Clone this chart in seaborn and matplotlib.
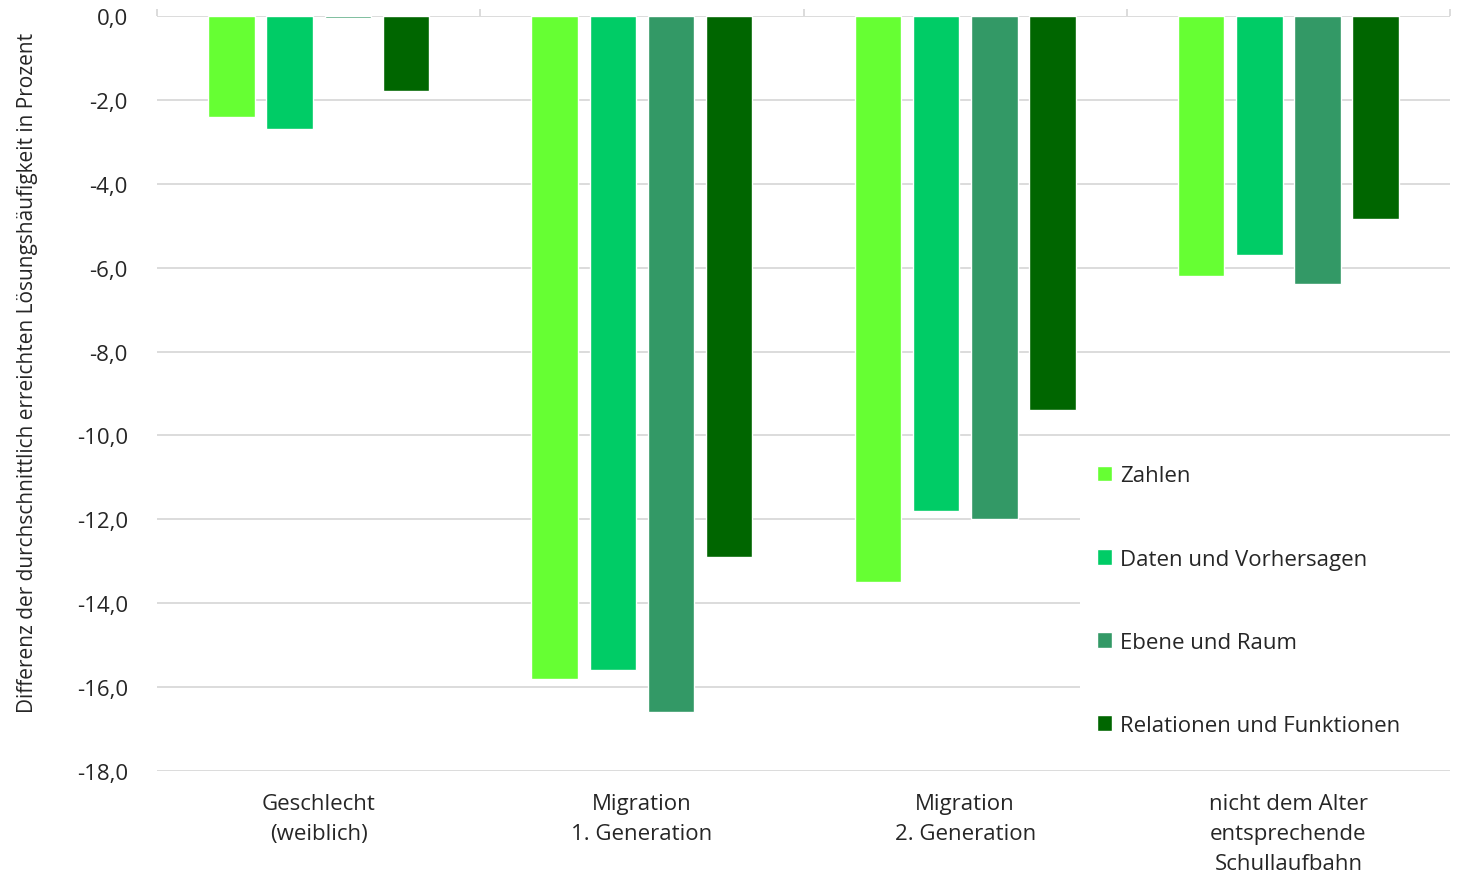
import matplotlib
matplotlib.use('Agg')
import matplotlib.pyplot as plt
import numpy as np
import pandas as pd
import seaborn as sns
from matplotlib.ticker import FuncFormatter

categories = ['Geschlecht\n(weiblich)', 'Migration\n1. Generation',
              'Migration\n2. Generation', 'nicht dem Alter\nentsprechende\nSchullaufbahn']
series = ['Zahlen', 'Daten und Vorhersagen', 'Ebene und Raum', 'Relationen und Funktionen']
zahlen = [-2.4, -15.8, -13.5, -6.2]
daten = [-2.7, -15.6, -11.8, -5.7]
ebene = [-0.05, -16.6, -12.0, -6.4]
relationen = [-1.8, -12.9, -9.4, -4.85]
colors = ['#66FF33', '#00CC66', '#339966', '#006600']

df = pd.DataFrame({
    'cat': categories * 4,
    'serie': np.repeat(series, 4),
    'wert': zahlen + daten + ebene + relationen,
})

sns.set_theme(style='white')
plt.rcParams['font.family'] = ['Open Sans', 'DejaVu Sans']
FS = 16

fig = plt.figure(figsize=(14.57, 8.79), dpi=100)
ax = fig.add_axes([0.1078, 0.1217, 0.8874, 0.859])

sns.barplot(data=df, x='cat', y='wert', hue='serie', palette=colors,
            width=0.72, gap=0.2, ax=ax, saturation=1, errorbar=None, zorder=3)

ax.set_ylim(-18, 0)
ax.set_xlim(-0.5, 3.5)
ax.set_yticks(np.arange(-18, 0.1, 2))
ax.yaxis.set_major_formatter(FuncFormatter(lambda v, p: f'{v:.1f}'.replace('.', ',').replace('\u2212', '-')))
ax.grid(axis='y', color='#d9d9d9', linewidth=1.3, zorder=0)
ax.set_axisbelow(True)
for s in ax.spines.values():
    s.set_visible(False)

ax.tick_params(axis='y', length=0, labelsize=FS, pad=21)
ax.tick_params(axis='x', which='major', length=0, labelsize=FS, pad=16)
for t in ax.get_xticklabels():
    t.set_linespacing(1.55)
ax.set_xticks([-0.5, 0.5, 1.5, 2.5, 3.5], minor=True)
ax.tick_params(axis='x', which='minor', top=True, bottom=False, length=5,
               color='#d9d9d9', width=1.3, labeltop=False, direction='out')

ax.set_xlabel('')
ax.set_ylabel('Differenz der durchschnittlich erreichten Lösungshäufigkeit in Prozent',
              fontsize=15)
ax.yaxis.set_label_coords(-0.092, 0.528)

leg = ax.legend(loc='upper left', bbox_to_anchor=(0.714, 0.0, 0.286, 0.427), mode='expand',
                frameon=True, facecolor='white', edgecolor='none', framealpha=1, fontsize=FS,
                labelspacing=2.8, handlelength=0.7, handleheight=0.7,
                handletextpad=0.36, borderpad=0.75, borderaxespad=0, fancybox=False)
leg.set_zorder(5)

fig.savefig('out.png', dpi=100, facecolor='white')
